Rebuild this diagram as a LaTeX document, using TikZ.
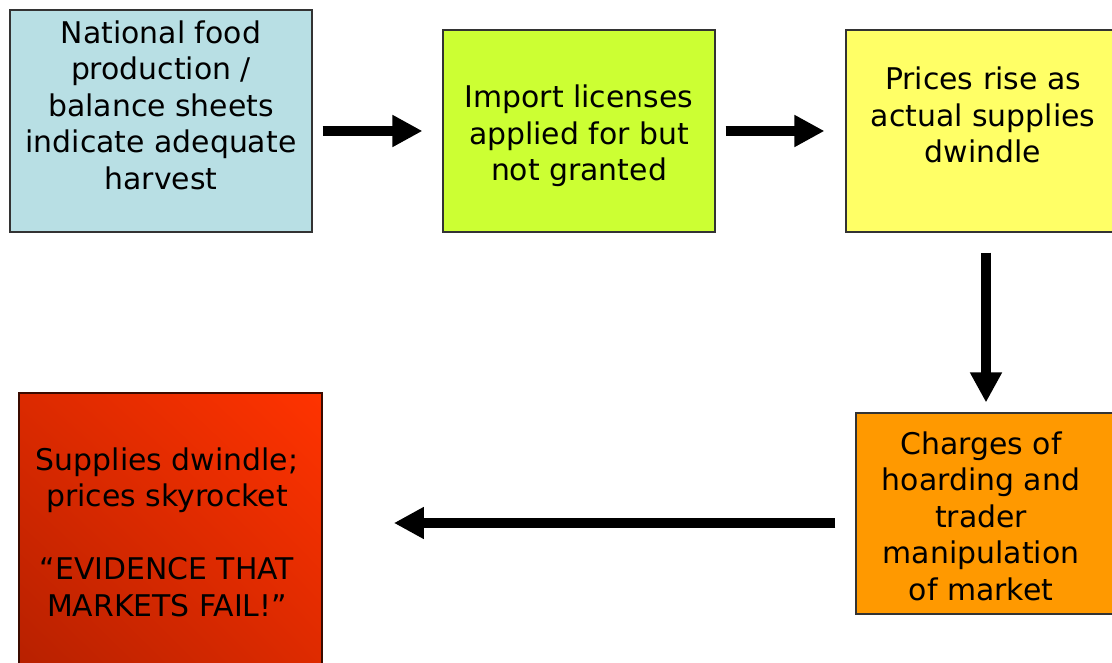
\documentclass[tikz,border=0pt]{standalone}
\usepackage{fontspec}
\setmainfont{DejaVu Sans}
\usepackage{tikz}
\usetikzlibrary{
  arrows.meta,   % Triangle 箭头
  shadings,      % 四角渐变
  positioning    % 节点相对定位
}
\definecolor{boxblue}{HTML}{B8DFE4}
\definecolor{boxgreen}{HTML}{CCFF33}
\definecolor{boxyellow}{HTML}{FFFF66}
\definecolor{boxorange}{HTML}{FF9900}
\definecolor{redlight}{HTML}{FF3300}
\definecolor{reddark}{HTML}{B52000}
\definecolor{redmid}{HTML}{DC2A00}
\definecolor{rededge}{HTML}{3A0A00}

\begin{document}
\begin{tikzpicture}[
  box/.style={draw=black!80, line width=0.6pt, inner sep=0pt}, % 方框：细深色边
  txt/.style={align=center, inner sep=0pt, font=\fontsize{17}{20.8}\selectfont}, % 框内文字
  flow/.style={line width=0.2cm, -{Triangle[length=0.6cm, width=0.6cm]}} % 粗黑箭头
] % 整体思路：上排三个方框从左到右，右侧向下，再向左指向红色结论框

  \path[use as bounding box, clip] (0,0) rectangle (22.24,-13.26); % 固定画面大小，超出部分裁掉

  % ======= 上排三个方框 =======
  \node[box, fill=boxblue, minimum width=6.04cm, minimum height=4.44cm] (natbox) at (3.22,-2.42) {}; % 蓝框：国家粮食生产
  \node[txt] (nattxt) at (3.22,-2.10) {National food\\production /\\balance sheets\\indicate adequate\\harvest};

  \node[box, fill=boxgreen, minimum width=5.44cm, minimum height=4.04cm] (impbox) at (11.58,-2.62) {}; % 绿框：进口许可
  \node[txt] (imptxt) at (11.58,-2.72) {Import licenses\\applied for but\\not granted};

  \node[box, fill=boxyellow, minimum width=5.60cm, minimum height=4.04cm] (pricebox) at (19.72,-2.62) {}; % 黄框：价格上涨，右边超出画面
  \node[txt] (pricetxt) at (19.66,-2.30) {Prices rise as\\actual supplies\\dwindle};

  % ======= 下排两个方框 =======
  \node[box, fill=boxorange, minimum width=5.24cm, minimum height=4.02cm] (hoardbox) at (19.74,-10.27) {}; % 橙框：囤积指控
  \node[txt] (hoardtxt) at (19.62,-10.32) {Charges of\\hoarding and\\trader\\manipulation\\of market};

  \node[draw=rededge, line width=1pt, inner sep=0pt, minimum width=6.06cm, minimum height=5.80cm,
        lower left=reddark, upper right=redlight, upper left=redmid, lower right=redmid] (failbox) at (3.41,-10.76) {}; % 红框：渐变填充，下边超出画面
  \node[txt] (failtxt) at (3.34,-10.64) {Supplies dwindle;\\prices skyrocket\\[20.8pt]“EVIDENCE THAT\\MARKETS FAIL!”};

  % ======= 箭头 =======
  \draw[flow, shorten <=0.2cm, shorten >=0.4cm] (natbox.east |- impbox.west) -- (impbox.west); % 蓝 → 绿
  \draw[flow, shorten <=0.2cm, shorten >=0.42cm] (impbox.east) -- (pricebox.west); % 绿 → 黄
  \draw[flow, shorten <=0.4cm, shorten >=0.2cm] (pricebox.south) -- (pricebox.south |- hoardbox.north); % 黄 ↓ 橙
  \draw[flow, shorten <=0.4cm, shorten >=1.42cm] ([yshift=-0.19cm]hoardbox.west) -- ([yshift=-0.19cm]hoardbox.west -| failbox.east); % 橙 ← 红

\end{tikzpicture}
\end{document}
